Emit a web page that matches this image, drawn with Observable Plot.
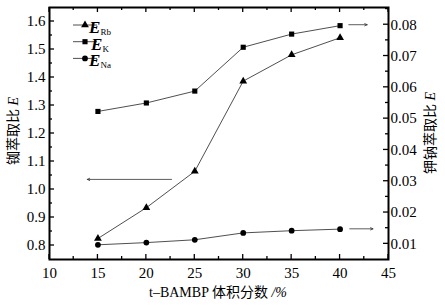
<!DOCTYPE html>
<html><head><meta charset="utf-8">
<script src="https://cdn.jsdelivr.net/npm/d3@7"></script>
<script src="https://cdn.jsdelivr.net/npm/@observablehq/plot@0.6"></script>
<style>body{margin:0;background:#fff}</style>
</head><body><div id="chart"></div>
<script>
// ---- data ----
const xValues = [15, 20, 25, 30, 35, 40];
const eRb = [0.825, 0.935, 1.065, 1.387, 1.481, 1.542];     // left axis
const eK  = [0.0523, 0.0550, 0.0588, 0.0728, 0.0770, 0.0797]; // right axis
const eNa = [0.0097, 0.0104, 0.0113, 0.0135, 0.0142, 0.0147]; // right axis
const seriesNames = ["Rb", "K", "Na"];
const xTicks = [10, 15, 20, 25, 30, 35, 40, 45];
const xMinor = [12.5, 17.5, 22.5, 27.5, 32.5, 37.5, 42.5];
const leftTicks = [0.8, 0.9, 1.0, 1.1, 1.2, 1.3, 1.4, 1.5, 1.6];
const leftMinor = [0.85, 0.95, 1.05, 1.15, 1.25, 1.35, 1.45, 1.55];
const rightTicks = [0.01, 0.02, 0.03, 0.04, 0.05, 0.06, 0.07, 0.08];
const rightMinor = [0.015, 0.025, 0.035, 0.045, 0.055, 0.065, 0.075, 0.085];
const leftDomain = [0.75, 1.65];
const rightDomain = [0.005, 0.0855];
// annotation arrows (x from, x to, value, axis)
const arrowX1 = [22.6, 40.9, 41.0];
const arrowX2 = [13.9, 42.8, 43.4];
const arrowV  = [1.036, 0.0800, 0.0148];
const arrowAxis = ["left", "right", "right"];

const toLeft = r => leftDomain[0] + (r - rightDomain[0]) / (rightDomain[1] - rightDomain[0]) * (leftDomain[1] - leftDomain[0]);
const fromLeft = l => rightDomain[0] + (l - leftDomain[0]) / (leftDomain[1] - leftDomain[0]) * (rightDomain[1] - rightDomain[0]);

const rows = [];
xValues.forEach((x, i) => {
  rows.push({x, v: eRb[i], s: "Rb"});
  rows.push({x, v: toLeft(eK[i]), s: "K"});
  rows.push({x, v: toLeft(eNa[i]), s: "Na"});
});
const arrows = arrowX1.map((x1, i) => {
  const v = arrowAxis[i] === "left" ? arrowV[i] : toLeft(arrowV[i]);
  return {x1, x2: arrowX2[i], y1: v, y2: v};
});

const font = "'Liberation Serif','Noto Sans CJK SC',serif";
const W = 445, H = 305, mL = 49, mR = 57, mT = 7, mB = 46;

const plot = Plot.plot({
  width: W, height: H, marginLeft: mL, marginRight: mR, marginTop: mT, marginBottom: mB,
  style: {fontSize: "15px", background: "#fff", color: "#000"},
  x: {domain: [10, 45]},
  y: {domain: leftDomain},
  symbol: {domain: seriesNames, range: ["triangle", "square", "circle"]},
  marks: [
    Plot.axisX(xTicks, {anchor: "bottom", tickSize: 0, tickPadding: 8, label: null, fontSize: 15}),
    Plot.axisY(leftTicks, {anchor: "left", tickSize: 0, tickPadding: 4, label: null, tickFormat: d => d.toFixed(1), fontSize: 15}),
    Plot.axisY(rightTicks.map(toLeft), {anchor: "right", tickSize: 0, tickPadding: 2, label: null, tickFormat: d => fromLeft(d).toFixed(2), fontSize: 15}),
    Plot.line(rows, {x: "x", y: "v", z: "s", stroke: "#222", strokeWidth: 0.8}),
    Plot.dot(rows, {x: "x", y: "v", symbol: "s", fill: "#000", stroke: "none", r: 2.9}),
    Plot.arrow(arrows, {x1: "x1", y1: "y1", x2: "x2", y2: "y2", stroke: "#333", strokeWidth: 0.8, headLength: 5, bend: 0, headAngle: 50}),
    Plot.frame({stroke: "#000", strokeWidth: 2})
  ]
});

document.getElementById("chart").appendChild(plot);

// ---- inward ticks via the plot's scales ----
const sx = plot.scale("x"), sy = plot.scale("y");
const svg = d3.select(plot);
const g = svg.append("g").attr("stroke", "#000").attr("stroke-width", 1.3);
const yBottom = H - mB, yTop = mT, xLeft = mL, xRight = W - mR;
function vt(x, len) {
  const px = sx.apply(x);
  g.append("line").attr("x1", px).attr("x2", px).attr("y1", yBottom).attr("y2", yBottom - len);
  g.append("line").attr("x1", px).attr("x2", px).attr("y1", yTop).attr("y2", yTop + len);
}
xTicks.forEach(x => vt(x, 5));
xMinor.forEach(x => vt(x, 3));
leftTicks.forEach(v => { const py = sy.apply(v); g.append("line").attr("x1", xLeft).attr("x2", xLeft + 5).attr("y1", py).attr("y2", py); });
leftMinor.forEach(v => { const py = sy.apply(v); g.append("line").attr("x1", xLeft).attr("x2", xLeft + 3).attr("y1", py).attr("y2", py); });
rightTicks.forEach(v => { const py = sy.apply(toLeft(v)); g.append("line").attr("x1", xRight).attr("x2", xRight - 5).attr("y1", py).attr("y2", py); });
rightMinor.forEach(v => { const py = sy.apply(toLeft(v)); g.append("line").attr("x1", xRight).attr("x2", xRight - 3).attr("y1", py).attr("y2", py); });

// ---- legend ----
const symbols = {Rb: d3.symbolTriangle, K: d3.symbolSquare, Na: d3.symbolCircle};
const lg = svg.append("g");
seriesNames.forEach((s, i) => {
  const y = 25 + i * 16.7;
  lg.append("line").attr("x1", 73).attr("x2", 97).attr("y1", y).attr("y2", y).attr("stroke", "#222").attr("stroke-width", 0.8);
  lg.append("path").attr("d", d3.symbol(symbols[s], Math.PI * 2.9 * 2.9)()).attr("transform", `translate(85,${y})`).attr("fill", "#000");
  const t = lg.append("text").attr("x", 100).attr("y", y + 8).attr("fill", "#000");
  t.append("tspan").attr("font-style", "italic").attr("font-weight", "bold").attr("font-size", 17).text("E");
  t.append("tspan").attr("font-size", 9).attr("dy", 2).text(s);
});

// ---- axis titles ----
function vlabel(x, y, main) {
  const t = svg.append("text").attr("transform", `translate(${x},${y}) rotate(-90)`)
    .attr("text-anchor", "middle").attr("font-size", 14).attr("fill", "#000");
  t.append("tspan").text(main + " ");
  t.append("tspan").attr("font-style", "italic").text("E");
}
vlabel(18, 131, "铷萃取比");
vlabel(435, 133, "钾钠萃取比");
const xl = svg.append("text").attr("x", 218).attr("y", 297).attr("text-anchor", "middle")
  .attr("font-size", 14).attr("fill", "#000");
xl.append("tspan").text("t–BAMBP 体积分数 ");
xl.append("tspan").attr("font-style", "italic").text("/%");

// serif font on every text element (inline style wins over Plot defaults)
svg.selectAll("text, tspan").style("font-family", font);
</script></body></html>
